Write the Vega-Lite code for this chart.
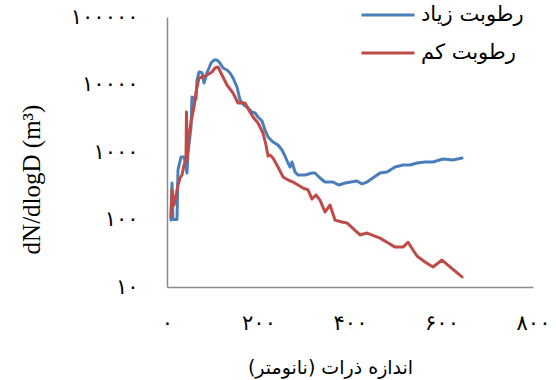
{
  "$schema": "https://vega.github.io/schema/vega-lite/v6.json",
  "width": 366,
  "height": 270,
  "autosize": {"type": "none"},
  "padding": {"left": 167, "top": 17, "right": 23, "bottom": 93},
  "background": "white",
  "config": {"view": {"stroke": null}},
  "data": {
    "values": [
      {"series": "رطوبت زیاد", "diameter": 8.7, "dNdlogD": 98},
      {"series": "رطوبت زیاد", "diameter": 10.9, "dNdlogD": 347},
      {"series": "رطوبت زیاد", "diameter": 13.1, "dNdlogD": 100},
      {"series": "رطوبت زیاد", "diameter": 21.9, "dNdlogD": 100},
      {"series": "رطوبت زیاد", "diameter": 24.0, "dNdlogD": 541},
      {"series": "رطوبت زیاد", "diameter": 30.6, "dNdlogD": 843},
      {"series": "رطوبت زیاد", "diameter": 37.2, "dNdlogD": 843},
      {"series": "رطوبت زیاد", "diameter": 43.7, "dNdlogD": 489},
      {"series": "رطوبت زیاد", "diameter": 45.9, "dNdlogD": 967},
      {"series": "رطوبت زیاد", "diameter": 52.5, "dNdlogD": 2345},
      {"series": "رطوبت زیاد", "diameter": 54.6, "dNdlogD": 6530},
      {"series": "رطوبت زیاد", "diameter": 63.4, "dNdlogD": 6000},
      {"series": "رطوبت زیاد", "diameter": 65.6, "dNdlogD": 11660},
      {"series": "رطوبت زیاد", "diameter": 69.9, "dNdlogD": 15310},
      {"series": "رطوبت زیاد", "diameter": 76.5, "dNdlogD": 15000},
      {"series": "رطوبت زیاد", "diameter": 80.9, "dNdlogD": 10520},
      {"series": "رطوبت زیاد", "diameter": 87.4, "dNdlogD": 14800},
      {"series": "رطوبت زیاد", "diameter": 96.2, "dNdlogD": 20840},
      {"series": "رطوبت زیاد", "diameter": 102.7, "dNdlogD": 23070},
      {"series": "رطوبت زیاد", "diameter": 109.3, "dNdlogD": 23070},
      {"series": "رطوبت زیاد", "diameter": 115.8, "dNdlogD": 20840},
      {"series": "رطوبت زیاد", "diameter": 122.4, "dNdlogD": 17550},
      {"series": "رطوبت زیاد", "diameter": 131.1, "dNdlogD": 16400},
      {"series": "رطوبت زیاد", "diameter": 137.7, "dNdlogD": 14800},
      {"series": "رطوبت زیاد", "diameter": 144.3, "dNdlogD": 12480},
      {"series": "رطوبت زیاد", "diameter": 153.0, "dNdlogD": 9180},
      {"series": "رطوبت زیاد", "diameter": 159.6, "dNdlogD": 5890},
      {"series": "رطوبت زیاد", "diameter": 166.1, "dNdlogD": 5140},
      {"series": "رطوبت زیاد", "diameter": 177.0, "dNdlogD": 4490},
      {"series": "رطوبت زیاد", "diameter": 185.8, "dNdlogD": 3910},
      {"series": "رطوبت زیاد", "diameter": 192.3, "dNdlogD": 3780},
      {"series": "رطوبت زیاد", "diameter": 198.9, "dNdlogD": 3300},
      {"series": "رطوبت زیاد", "diameter": 207.7, "dNdlogD": 2880},
      {"series": "رطوبت زیاد", "diameter": 214.2, "dNdlogD": 2120},
      {"series": "رطوبت زیاد", "diameter": 220.8, "dNdlogD": 1670},
      {"series": "رطوبت زیاد", "diameter": 231.7, "dNdlogD": 1405},
      {"series": "رطوبت زیاد", "diameter": 242.6, "dNdlogD": 1270},
      {"series": "رطوبت زیاد", "diameter": 251.4, "dNdlogD": 1070},
      {"series": "رطوبت زیاد", "diameter": 257.9, "dNdlogD": 873},
      {"series": "رطوبت زیاد", "diameter": 264.5, "dNdlogD": 687},
      {"series": "رطوبت زیاد", "diameter": 268.9, "dNdlogD": 600},
      {"series": "رطوبت زیاد", "diameter": 273.2, "dNdlogD": 711},
      {"series": "رطوبت زیاد", "diameter": 279.8, "dNdlogD": 506},
      {"series": "رطوبت زیاد", "diameter": 286.3, "dNdlogD": 456},
      {"series": "رطوبت زیاد", "diameter": 301.6, "dNdlogD": 456},
      {"series": "رطوبت زیاد", "diameter": 316.9, "dNdlogD": 489},
      {"series": "رطوبت زیاد", "diameter": 323.5, "dNdlogD": 489},
      {"series": "رطوبت زیاد", "diameter": 334.4, "dNdlogD": 412},
      {"series": "رطوبت زیاد", "diameter": 345.4, "dNdlogD": 359},
      {"series": "رطوبت زیاد", "diameter": 362.8, "dNdlogD": 359},
      {"series": "رطوبت زیاد", "diameter": 376.0, "dNdlogD": 324},
      {"series": "رطوبت زیاد", "diameter": 389.1, "dNdlogD": 347},
      {"series": "رطوبت زیاد", "diameter": 415.3, "dNdlogD": 372},
      {"series": "رطوبت زیاد", "diameter": 426.2, "dNdlogD": 336},
      {"series": "رطوبت زیاد", "diameter": 437.2, "dNdlogD": 359},
      {"series": "رطوبت زیاد", "diameter": 465.6, "dNdlogD": 489},
      {"series": "رطوبت زیاد", "diameter": 480.9, "dNdlogD": 506},
      {"series": "رطوبت زیاد", "diameter": 498.4, "dNdlogD": 600},
      {"series": "رطوبت زیاد", "diameter": 515.8, "dNdlogD": 642},
      {"series": "رطوبت زیاد", "diameter": 531.1, "dNdlogD": 642},
      {"series": "رطوبت زیاد", "diameter": 546.4, "dNdlogD": 687},
      {"series": "رطوبت زیاد", "diameter": 563.9, "dNdlogD": 711},
      {"series": "رطوبت زیاد", "diameter": 581.4, "dNdlogD": 711},
      {"series": "رطوبت زیاد", "diameter": 603.3, "dNdlogD": 788},
      {"series": "رطوبت زیاد", "diameter": 625.1, "dNdlogD": 761},
      {"series": "رطوبت زیاد", "diameter": 644.8, "dNdlogD": 815},

      {"series": "رطوبت کم", "diameter": 8.7, "dNdlogD": 109},
      {"series": "رطوبت کم", "diameter": 10.9, "dNdlogD": 274},
      {"series": "رطوبت کم", "diameter": 15.3, "dNdlogD": 164},
      {"series": "رطوبت کم", "diameter": 19.7, "dNdlogD": 231},
      {"series": "رطوبت کم", "diameter": 24.0, "dNdlogD": 324},
      {"series": "رطوبت کم", "diameter": 28.4, "dNdlogD": 412},
      {"series": "رطوبت کم", "diameter": 32.8, "dNdlogD": 456},
      {"series": "رطوبت کم", "diameter": 37.2, "dNdlogD": 642},
      {"series": "رطوبت کم", "diameter": 41.5, "dNdlogD": 761},
      {"series": "رطوبت کم", "diameter": 42.6, "dNdlogD": 3910},
      {"series": "رطوبت کم", "diameter": 43.7, "dNdlogD": 761},
      {"series": "رطوبت کم", "diameter": 48.1, "dNdlogD": 1790},
      {"series": "رطوبت کم", "diameter": 52.5, "dNdlogD": 2780},
      {"series": "رطوبت کم", "diameter": 59.0, "dNdlogD": 4640},
      {"series": "رطوبت کم", "diameter": 63.4, "dNdlogD": 7740},
      {"series": "رطوبت کم", "diameter": 69.9, "dNdlogD": 12480},
      {"series": "رطوبت کم", "diameter": 78.7, "dNdlogD": 12910},
      {"series": "رطوبت کم", "diameter": 87.4, "dNdlogD": 13830},
      {"series": "رطوبت کم", "diameter": 98.4, "dNdlogD": 15310},
      {"series": "رطوبت کم", "diameter": 104.9, "dNdlogD": 17550},
      {"series": "رطوبت کم", "diameter": 111.5, "dNdlogD": 18160},
      {"series": "رطوبت کم", "diameter": 120.2, "dNdlogD": 13830},
      {"series": "رطوبت کم", "diameter": 131.1, "dNdlogD": 9830},
      {"series": "رطوبت کم", "diameter": 144.3, "dNdlogD": 7480},
      {"series": "رطوبت کم", "diameter": 155.2, "dNdlogD": 5320},
      {"series": "رطوبت کم", "diameter": 170.5, "dNdlogD": 5320},
      {"series": "رطوبت کم", "diameter": 181.4, "dNdlogD": 3910},
      {"series": "رطوبت کم", "diameter": 188.0, "dNdlogD": 3300},
      {"series": "رطوبت کم", "diameter": 198.9, "dNdlogD": 2690},
      {"series": "رطوبت کم", "diameter": 209.8, "dNdlogD": 1910},
      {"series": "رطوبت کم", "diameter": 216.4, "dNdlogD": 1270},
      {"series": "رطوبت کم", "diameter": 220.8, "dNdlogD": 873},
      {"series": "رطوبت کم", "diameter": 225.1, "dNdlogD": 903},
      {"series": "رطوبت کم", "diameter": 231.7, "dNdlogD": 815},
      {"series": "رطوبت کم", "diameter": 242.6, "dNdlogD": 600},
      {"series": "رطوبت کم", "diameter": 253.6, "dNdlogD": 427},
      {"series": "رطوبت کم", "diameter": 264.5, "dNdlogD": 385},
      {"series": "رطوبت کم", "diameter": 275.4, "dNdlogD": 359},
      {"series": "رطوبت کم", "diameter": 286.3, "dNdlogD": 324},
      {"series": "رطوبت کم", "diameter": 297.3, "dNdlogD": 293},
      {"series": "رطوبت کم", "diameter": 308.2, "dNdlogD": 274},
      {"series": "رطوبت کم", "diameter": 316.9, "dNdlogD": 201},
      {"series": "رطوبت کم", "diameter": 325.7, "dNdlogD": 231},
      {"series": "رطوبت کم", "diameter": 334.4, "dNdlogD": 194},
      {"series": "رطوبت کم", "diameter": 345.4, "dNdlogD": 129},
      {"series": "رطوبت کم", "diameter": 356.3, "dNdlogD": 164},
      {"series": "رطوبت کم", "diameter": 367.2, "dNdlogD": 98},
      {"series": "رطوبت کم", "diameter": 382.5, "dNdlogD": 92},
      {"series": "رطوبت کم", "diameter": 393.4, "dNdlogD": 89},
      {"series": "رطوبت کم", "diameter": 421.9, "dNdlogD": 59},
      {"series": "رطوبت کم", "diameter": 437.2, "dNdlogD": 63},
      {"series": "رطوبت کم", "diameter": 465.6, "dNdlogD": 53},
      {"series": "رطوبت کم", "diameter": 480.9, "dNdlogD": 46},
      {"series": "رطوبت کم", "diameter": 498.4, "dNdlogD": 39},
      {"series": "رطوبت کم", "diameter": 515.8, "dNdlogD": 39},
      {"series": "رطوبت کم", "diameter": 526.8, "dNdlogD": 46},
      {"series": "رطوبت کم", "diameter": 546.4, "dNdlogD": 28.8},
      {"series": "رطوبت کم", "diameter": 563.9, "dNdlogD": 23.5},
      {"series": "رطوبت کم", "diameter": 581.4, "dNdlogD": 19.8},
      {"series": "رطوبت کم", "diameter": 601.1, "dNdlogD": 25.1},
      {"series": "رطوبت کم", "diameter": 618.6, "dNdlogD": 19.8},
      {"series": "رطوبت کم", "diameter": 644.8, "dNdlogD": 14.1}
    ]
  },
  "mark": {"type": "line", "strokeWidth": 3, "strokeJoin": "round", "strokeCap": "round"},
  "encoding": {
    "x": {
      "field": "diameter",
      "type": "quantitative",
      "scale": {"domain": [0, 800], "nice": false},
      "axis": {
        "values": [0, 200, 400, 600, 800],
        "labelExpr": "datum.value == 0 ? '۰' : datum.value == 200 ? '۲۰۰' : datum.value == 400 ? '۴۰۰' : datum.value == 600 ? '۶۰۰' : '۸۰۰'",
        "grid": false,
        "ticks": false,
        "domainColor": "#8a8a8a",
        "domainWidth": 1.5,
        "labelFont": "DejaVu Sans",
        "labelFontSize": 21,
        "labelColor": "#000000",
        "labelPadding": 25,
        "labelFlush": false,
        "title": "اندازه ذرات (نانومتر)",
        "titleFont": "DejaVu Sans",
        "titleFontSize": 19,
        "titleFontWeight": "normal",
        "titleColor": "#000000",
        "titleAlign": "center",
        "titleBaseline": "middle",
        "titleX": 163,
        "titleY": 80
      }
    },
    "y": {
      "field": "dNdlogD",
      "type": "quantitative",
      "scale": {"type": "log", "domain": [10, 100000], "nice": false},
      "axis": {
        "values": [10, 100, 1000, 10000, 100000],
        "labelExpr": "datum.value == 10 ? '۱۰' : datum.value == 100 ? '۱۰۰' : datum.value == 1000 ? '۱۰۰۰' : datum.value == 10000 ? '۱۰۰۰۰' : '۱۰۰۰۰۰'",
        "grid": false,
        "ticks": false,
        "domainColor": "#8a8a8a",
        "domainWidth": 1.5,
        "labelFont": "DejaVu Sans",
        "labelFontSize": 21,
        "labelColor": "#000000",
        "labelPadding": 29,
        "labelFlush": false,
        "title": "dN/dlogD (m³)",
        "titleFont": "Liberation Serif",
        "titleFontSize": 25,
        "titleFontWeight": "normal",
        "titleColor": "#000000",
        "titleAngle": -90,
        "titleAlign": "center",
        "titleBaseline": "middle",
        "titleX": -136,
        "titleY": 162
      }
    },
    "color": {
      "field": "series",
      "type": "nominal",
      "scale": {"domain": ["رطوبت زیاد", "رطوبت کم"], "range": ["#4a7ebb", "#be4b48"]},
      "legend": {
        "title": null,
        "orient": "none",
        "legendX": 193,
        "legendY": -30,
        "padding": 0,
        "symbolType": "stroke",
        "symbolSize": 2809,
        "symbolStrokeWidth": 3,
        "labelFont": "DejaVu Sans",
        "labelFontSize": 21,
        "labelColor": "#000000",
        "labelOffset": 5,
        "rowPadding": -3
      }
    }
  }
}
